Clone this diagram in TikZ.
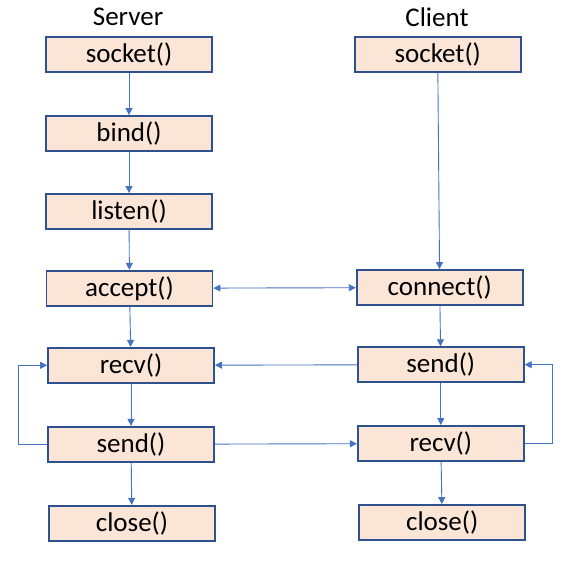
\documentclass[tikz,border=0pt]{standalone}
\usepackage{fontspec}
\setmainfont{Carlito}
\usetikzlibrary{arrows.meta}
\definecolor{callfill}{HTML}{FBE5D6}
\definecolor{callline}{HTML}{2F528F}
\definecolor{linkblue}{HTML}{4472C4}

\begin{document}
\begin{tikzpicture}[x=1pt,y=-1pt,
            call/.style={draw=callline,line width=1.8pt,fill=callfill,
              minimum width=166pt,minimum height=35pt,inner sep=0pt,
              font=\fontsize{27}{30}\selectfont},
            side/.style={font=\fontsize{27}{30}\selectfont},
            link/.style={draw=linkblue,line width=0.9pt,-{Triangle[length=7pt,width=7pt]}}
            ]
            \useasboundingbox (0,0) rectangle (569,575);

            % The headings
            \node[side] (server) at (128,17) {Server};
            \node[side] (client) at (437,17) {Client};

            % The server calls
            \node[call] (ssocket) at (129,54.5) {socket()};
            \node[call] (sbind) at (129,133.5) {bind()};
            \node[call] (slisten) at (129,211.5) {listen()};
            \node[call] (saccept) at (129.5,288.3) {accept()};
            \node[call] (srecv) at (131,365.3) {recv()};
            \node[call] (ssend) at (131,444.3) {send()};
            \node[call] (sclose) at (132,523.3) {close()};

            % The client calls
            \node[call] (csocket) at (437.7,54.5) {socket()};
            \node[call] (cconnect) at (439.7,287.5) {connect()};
            \node[call] (csend) at (440.8,364.7) {send()};
            \node[call] (crecv) at (440.8,443.5) {recv()};
            \node[call] (cclose) at (442.2,522.5) {close()};

            % The flow
            \draw[link] (ssocket) -- (sbind);
            \draw[link] (sbind) -- (slisten);
            \draw[link] (slisten) -- (saccept);
            \draw[link] (saccept) -- (srecv);
            \draw[link] (srecv) -- (ssend);
            \draw[link] (ssend) -- (sclose);
            \draw[link] (ssend.west) -- ++(-28.5,0) |- (srecv.west);

            \draw[link] (csocket) -- (cconnect);
            \draw[link] (cconnect) -- (csend);
            \draw[link] (csend) -- (crecv);
            \draw[link] (crecv) -- (cclose);
            \draw[link] (crecv.east) -- ++(27.5,0) |- (csend.east);

            % Between the two
            \draw[link,{Triangle[length=7pt,width=7pt]}-{Triangle[length=7pt,width=7pt]}] (saccept) -- (cconnect);
            \draw[link] (csend) -- (srecv);
            \draw[link] (ssend) -- (crecv);
        \end{tikzpicture}
\end{document}
